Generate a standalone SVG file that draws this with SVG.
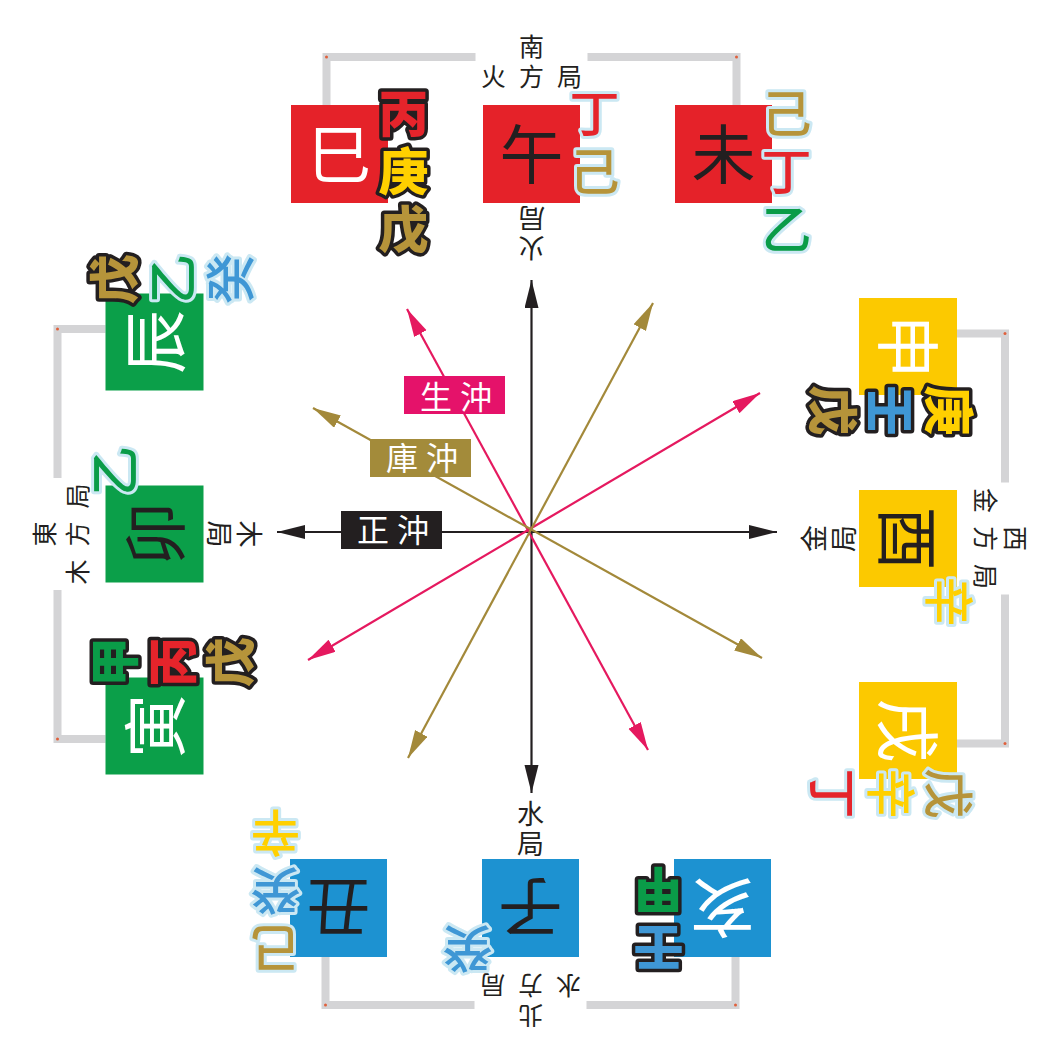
<svg xmlns="http://www.w3.org/2000/svg" width="1063" height="1063" viewBox="0 0 1063 1063">
<style>
text{font-family:"Noto Sans CJK TC","Noto Sans CJK SC",sans-serif;text-anchor:middle}
.red{fill:#e52229}.grn{fill:#0b9f49}.yel{fill:#fcc900}.blu{fill:#1d92d1}
.ch{font-size:64px}
.w{fill:#fff}.k{fill:#231f20}
.sa{font-size:50px;font-weight:900;stroke:#231f20;stroke-width:7;stroke-linejoin:round;paint-order:stroke}
.sb{font-size:50px;font-weight:500;stroke:#cbe8f3;stroke-width:6;stroke-linejoin:round;paint-order:stroke}
.c-red{fill:#e5242b}.c-yel{fill:#ffd000}.c-gld{fill:#b6943a}.c-grn{fill:#0a9c48}.c-blu{fill:#3f97d5}
.brk{fill:none;stroke:#d4d4d6;stroke-width:8}
.dot{fill:#e0603c}
.lab{font-size:25px;fill:#231f20}
.inn{font-size:27px;fill:#231f20}
.ln{stroke-width:2.2;fill:none}
.tag{font-size:32px;fill:#fff;text-anchor:start;letter-spacing:8px}
</style>
<defs>
<marker id="ah-k" markerUnits="userSpaceOnUse" markerWidth="30" markerHeight="16" refX="28" refY="7" orient="auto-start-reverse"><path d="M0,0L28,7L0,14Z" fill="#231f20"/></marker>
<marker id="ah-p" markerUnits="userSpaceOnUse" markerWidth="30" markerHeight="16" refX="28" refY="7" orient="auto-start-reverse"><path d="M0,0L28,7L0,14Z" fill="#e5195f"/></marker>
<marker id="ah-g" markerUnits="userSpaceOnUse" markerWidth="30" markerHeight="16" refX="28" refY="7" orient="auto-start-reverse"><path d="M0,0L28,7L0,14Z" fill="#a3893a"/></marker>
</defs>
<rect width="1063" height="1063" fill="#fff"/>

<g id="connectors">
<line class="ln" x1="531.5" y1="280" x2="531.5" y2="793" stroke="#231f20" marker-start="url(#ah-k)" marker-end="url(#ah-k)"/>
<line class="ln" x1="277" y1="532" x2="777" y2="532" stroke="#231f20" marker-start="url(#ah-k)" marker-end="url(#ah-k)"/>
<line class="ln" x1="407" y1="309" x2="648" y2="750" stroke="#e5195f" marker-start="url(#ah-p)" marker-end="url(#ah-p)"/>
<line class="ln" x1="760" y1="393" x2="308" y2="660" stroke="#e5195f" marker-start="url(#ah-p)" marker-end="url(#ah-p)"/>
<line class="ln" x1="653" y1="303" x2="408" y2="758" stroke="#a3893a" marker-start="url(#ah-g)" marker-end="url(#ah-g)"/>
<line class="ln" x1="313" y1="408" x2="762" y2="658" stroke="#a3893a" marker-start="url(#ah-g)" marker-end="url(#ah-g)"/>
</g>

<g id="label-shengchong"><rect x="404" y="376" width="101" height="38" fill="#e5126a"/><text class="tag" x="420" y="409">生沖</text></g>
<g id="label-kuchong"><rect x="370" y="439" width="101" height="38" fill="#a38b3a"/><text class="tag" x="386" y="470">庫沖</text></g>
<g id="label-zhengchong"><rect x="341" y="511" width="101" height="38" fill="#231f20"/><text class="tag" x="357" y="542">正沖</text></g>

<!-- TOP: South -->
<g id="side-south" transform="translate(531.5,154)">
<path class="brk" d="M-205,-49V-97H-56M56,-97H205V-49"/>
<circle class="dot" cx="-205" cy="-97" r="1.5"/><circle class="dot" cx="205" cy="-97" r="1.5"/>
<text class="lab" x="0" y="-98">南</text>
<text class="lab" x="6.5" y="-68" letter-spacing="13">火方局</text>
<g transform="translate(0,79) rotate(180)"><text class="inn"><tspan x="0" y="-5">火</tspan><tspan x="0" y="25">局</tspan></text></g>
<g id="node-si"><rect class="red" x="-240.5" y="-49" width="97" height="98"/><text class="ch w" x="-192" y="24">巳</text>
<text class="sa c-red" x="-128" y="-22">丙</text><text class="sa c-yel" x="-128" y="36">庚</text><text class="sa c-gld" x="-128" y="94">戊</text></g>
<g id="node-wu"><rect class="red" x="-48.5" y="-49" width="97" height="98"/><text class="ch k" x="0" y="24">午</text>
<text class="sb c-red" x="63" y="-22">丁</text><text class="sb c-gld" x="63" y="36">己</text></g>
<g id="node-wei"><rect class="red" x="143.5" y="-49" width="97" height="98"/><text class="ch k" x="192" y="24">未</text>
<text class="sb c-gld" x="255" y="-22">己</text><text class="sb c-red" x="255" y="36">丁</text><text class="sb c-grn" x="255" y="94">乙</text></g>
</g>

<!-- BOTTOM: North -->
<g id="side-north" transform="translate(530.5,908) rotate(180)">
<path class="brk" d="M-205,-49V-97H-56M56,-97H205V-49"/>
<circle class="dot" cx="-205" cy="-97" r="1.5"/><circle class="dot" cx="205" cy="-97" r="1.5"/>
<text class="lab" x="0" y="-98">北</text>
<text class="lab" x="6.5" y="-68" letter-spacing="13">水方局</text>
<g transform="translate(0,79) rotate(180)"><text class="inn"><tspan x="0" y="-5">水</tspan><tspan x="0" y="25">局</tspan></text></g>
<g id="node-hai"><rect class="blu" x="-240.5" y="-49" width="97" height="98"/><text class="ch w" x="-192" y="24">亥</text>
<text class="sa c-blu" x="-128" y="-22">壬</text><text class="sa c-grn" x="-128" y="36">甲</text></g>
<g id="node-zi"><rect class="blu" x="-48.5" y="-49" width="97" height="98"/><text class="ch k" x="0" y="24">子</text>
<text class="sb c-blu" x="63" y="-22">癸</text></g>
<g id="node-chou"><rect class="blu" x="143.5" y="-49" width="97" height="98"/><text class="ch k" x="192" y="24">丑</text>
<text class="sb c-gld" x="255" y="-22">己</text><text class="sb c-blu" x="255" y="36">癸</text><text class="sb c-yel" x="255" y="94">辛</text></g>
</g>

<!-- LEFT: East -->
<g id="side-east" transform="translate(154.5,534) rotate(-90)">
<path class="brk" d="M-205,-49V-97H-56M56,-97H205V-49"/>
<circle class="dot" cx="-205" cy="-97" r="1.5"/><circle class="dot" cx="205" cy="-97" r="1.5"/>
<text class="lab" x="0" y="-101">東</text>
<text class="lab" x="6.5" y="-68" letter-spacing="13">木方局</text>
<g transform="translate(0,79) rotate(180)"><text class="inn"><tspan x="0" y="-5">木</tspan><tspan x="0" y="25">局</tspan></text></g>
<g id="node-yin"><rect class="grn" x="-240.5" y="-49" width="97" height="98"/><text class="ch w" x="-192" y="24">寅</text>
<text class="sa c-grn" x="-128" y="-22">甲</text><text class="sa c-red" x="-128" y="36">丙</text><text class="sa c-gld" x="-128" y="94">戊</text></g>
<g id="node-mao"><rect class="grn" x="-48.5" y="-49" width="97" height="98"/><text class="ch k" x="0" y="24">卯</text>
<text class="sb c-grn" x="63" y="-22">乙</text></g>
<g id="node-chen"><rect class="grn" x="143.5" y="-49" width="97" height="98"/><text class="ch w" x="192" y="24">辰</text>
<text class="sa c-gld" x="255" y="-22">戊</text><text class="sb c-grn" x="255" y="36">乙</text><text class="sb c-blu" x="255" y="94">癸</text></g>
</g>

<!-- RIGHT: West -->
<g id="side-west" transform="translate(908,538.5) rotate(90)">
<path class="brk" d="M-205,-49V-97H-56M56,-97H205V-49"/>
<circle class="dot" cx="-205" cy="-97" r="1.5"/><circle class="dot" cx="205" cy="-97" r="1.5"/>
<text class="lab" x="0" y="-98">西</text>
<text class="lab" x="6.5" y="-68" letter-spacing="13">金方局</text>
<g transform="translate(0,79) rotate(180)"><text class="inn"><tspan x="0" y="-5">金</tspan><tspan x="0" y="25">局</tspan></text></g>
<g id="node-shen"><rect class="yel" x="-240.5" y="-49" width="97" height="98"/><text class="ch w" x="-192" y="24">申</text>
<text class="sa c-yel" x="-128" y="-22">庚</text><text class="sa c-blu" x="-128" y="36">壬</text><text class="sa c-gld" x="-128" y="94">戊</text></g>
<g id="node-you"><rect class="yel" x="-48.5" y="-49" width="97" height="98"/><text class="ch k" x="0" y="24">酉</text>
<text class="sb c-yel" x="63" y="-22">辛</text></g>
<g id="node-xu"><rect class="yel" x="143.5" y="-49" width="97" height="98"/><text class="ch w" x="192" y="24">戌</text>
<text class="sb c-gld" x="255" y="-22">戊</text><text class="sb c-yel" x="255" y="36">辛</text><text class="sb c-red" x="255" y="94">丁</text></g>
</g>
</svg>
